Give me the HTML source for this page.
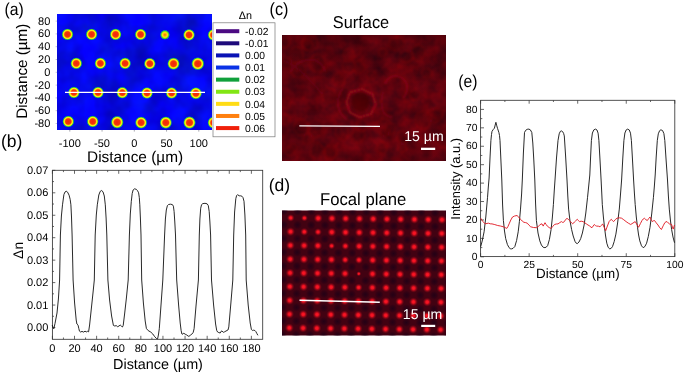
<!DOCTYPE html>
<html lang="en"><head><meta charset="utf-8"><title>Figure</title>
<style>html,body{margin:0;padding:0;background:#fff;}svg{display:block;opacity:0.999;}text{font-family:"Liberation Sans", sans-serif;text-rendering:geometricPrecision;}</style></head><body>
<svg width="685" height="374" viewBox="0 0 685 374">
<rect width="685" height="374" fill="#fff"/>
<defs>
<radialGradient id="dot"><stop offset="0" stop-color="#f0260a"/><stop offset="0.44" stop-color="#f4360a"/><stop offset="0.54" stop-color="#ff8a0a"/><stop offset="0.62" stop-color="#ffe012"/><stop offset="0.71" stop-color="#f4ec14"/><stop offset="0.78" stop-color="#8ee618"/><stop offset="0.85" stop-color="#18b050"/><stop offset="0.93" stop-color="#1068d0" stop-opacity="0.65"/><stop offset="1" stop-color="#0a2ae0" stop-opacity="0"/></radialGradient>
<radialGradient id="dotw"><stop offset="0" stop-color="#f8600a"/><stop offset="0.28" stop-color="#ffb010"/><stop offset="0.50" stop-color="#ffe414"/><stop offset="0.68" stop-color="#86e418"/><stop offset="0.82" stop-color="#18b050"/><stop offset="0.93" stop-color="#1060d8" stop-opacity="0.8"/><stop offset="1" stop-color="#0a2ae0" stop-opacity="0"/></radialGradient>
<radialGradient id="fd"><stop offset="0" stop-color="#fa1a2a"/><stop offset="0.30" stop-color="#f0101f"/><stop offset="0.58" stop-color="#c00a1a" stop-opacity="0.62"/><stop offset="1" stop-color="#70040f" stop-opacity="0"/></radialGradient>
<radialGradient id="fdk"><stop offset="0" stop-color="#1c0016" stop-opacity="0.8"/><stop offset="0.55" stop-color="#1c0016" stop-opacity="0.45"/><stop offset="1" stop-color="#1c0016" stop-opacity="0"/></radialGradient>
<filter id="bluetex" x="0" y="0" width="1" height="1" color-interpolation-filters="sRGB"><feTurbulence type="fractalNoise" baseFrequency="0.04" numOctaves="3" seed="7" result="n"/><feColorMatrix in="n" type="matrix" values="0 0 0 0 0.02  0.12 0 0 0 -0.03  0 0.52 0 0 0.64  0 0 0 0 1"/></filter>
<filter id="redtex" x="0" y="0" width="1" height="1" color-interpolation-filters="sRGB"><feTurbulence type="fractalNoise" baseFrequency="0.065" numOctaves="3" seed="11" result="n"/><feColorMatrix in="n" type="matrix" values="0.40 0 0 0 0.18  0 0.02 0 0 0.0  0 0.04 0 0 0.035  0 0 0 0 1"/></filter>
<radialGradient id="vig" cx="0.55" cy="0.5" r="0.75"><stop offset="0" stop-color="#200008" stop-opacity="0"/><stop offset="0.55" stop-color="#200008" stop-opacity="0.08"/><stop offset="1" stop-color="#200008" stop-opacity="0.25"/></radialGradient>
<linearGradient id="tb" x1="0" y1="0" x2="0" y2="1"><stop offset="0" stop-color="#1a0006" stop-opacity="0.12"/><stop offset="0.5" stop-color="#1a0006" stop-opacity="0.02"/><stop offset="0.55" stop-color="#c00008" stop-opacity="0.0"/><stop offset="1" stop-color="#c00008" stop-opacity="0.03"/></linearGradient>
<filter id="blur1"><feGaussianBlur stdDeviation="1.1"/></filter>
<filter id="blur2"><feGaussianBlur stdDeviation="0.6"/></filter>
<clipPath id="clipA"><rect x="57" y="14" width="155" height="116"/></clipPath>
<clipPath id="clipC"><rect x="282" y="35" width="164" height="125.5"/></clipPath>
<clipPath id="clipD"><rect x="282" y="210.5" width="164" height="125"/></clipPath>
</defs>
<g id="panel-a">
<rect x="57" y="14" width="155" height="116" fill="#0508e6"/>
<rect x="57" y="14" width="155" height="116" filter="url(#bluetex)"/>
<g clip-path="url(#clipA)">
<circle cx="67.5" cy="34.4" r="6.1" fill="url(#dot)"/>
<circle cx="91.6" cy="34.4" r="6.1" fill="url(#dot)"/>
<circle cx="115.6" cy="34.4" r="6.1" fill="url(#dot)"/>
<circle cx="140.6" cy="34.5" r="6.1" fill="url(#dot)"/>
<circle cx="164.9" cy="34.8" r="5" fill="url(#dotw)"/>
<circle cx="189" cy="34.9" r="6.1" fill="url(#dot)"/>
<circle cx="213.5" cy="34.9" r="6.1" fill="url(#dot)"/>
<circle cx="76.3" cy="63.4" r="6.1" fill="url(#dot)"/>
<circle cx="100.4" cy="63.4" r="6.1" fill="url(#dot)"/>
<circle cx="125.1" cy="63.4" r="6.1" fill="url(#dot)"/>
<circle cx="149.8" cy="63.7" r="6.1" fill="url(#dot)"/>
<circle cx="173.5" cy="63.7" r="6.4" fill="url(#dot)"/>
<circle cx="197.8" cy="63.7" r="6.7" fill="url(#dot)"/>
<circle cx="73.9" cy="92.5" r="6.1" fill="url(#dot)"/>
<circle cx="98" cy="92.5" r="6.1" fill="url(#dot)"/>
<circle cx="122.3" cy="92.7" r="6.1" fill="url(#dot)"/>
<circle cx="147" cy="93" r="6.1" fill="url(#dot)"/>
<circle cx="171.6" cy="93" r="6.1" fill="url(#dot)"/>
<circle cx="195.9" cy="93.3" r="6.3" fill="url(#dot)"/>
<circle cx="68.3" cy="121.5" r="6.1" fill="url(#dot)"/>
<circle cx="92.7" cy="121.5" r="6.1" fill="url(#dot)"/>
<circle cx="117.2" cy="122.2" r="6.6" fill="url(#dot)"/>
<circle cx="141.1" cy="122.6" r="6.3" fill="url(#dot)"/>
<circle cx="165.8" cy="122.6" r="6.4" fill="url(#dot)"/>
<circle cx="189.5" cy="122.6" r="6.5" fill="url(#dot)"/>
<circle cx="213.6" cy="122.6" r="6.3" fill="url(#dot)"/>
</g>
<line x1="65" y1="92.3" x2="205" y2="92.3" stroke="#fff" stroke-width="1.3"/>
<line x1="69.8" y1="130" x2="69.8" y2="131.6" stroke="#556" stroke-width="0.5"/>
<text x="69.8" y="146.9" font-size="11" text-anchor="middle" fill="#000">-100</text>
<line x1="102.05" y1="130" x2="102.05" y2="131.6" stroke="#556" stroke-width="0.5"/>
<text x="102.05" y="146.9" font-size="11" text-anchor="middle" fill="#000">-50</text>
<line x1="134.3" y1="130" x2="134.3" y2="131.6" stroke="#556" stroke-width="0.5"/>
<text x="134.3" y="146.9" font-size="11" text-anchor="middle" fill="#000">0</text>
<line x1="166.55" y1="130" x2="166.55" y2="131.6" stroke="#556" stroke-width="0.5"/>
<text x="166.55" y="146.9" font-size="11" text-anchor="middle" fill="#000">50</text>
<line x1="198.8" y1="130" x2="198.8" y2="131.6" stroke="#556" stroke-width="0.5"/>
<text x="198.8" y="146.9" font-size="11" text-anchor="middle" fill="#000">100</text>
<line x1="55.6" y1="21.1" x2="57" y2="21.1" stroke="#88a" stroke-width="0.5"/>
<text x="50.3" y="24.5" font-size="11" text-anchor="end" fill="#000">80</text>
<line x1="55.6" y1="33.9" x2="57" y2="33.9" stroke="#88a" stroke-width="0.5"/>
<text x="50.3" y="37.3" font-size="11" text-anchor="end" fill="#000">60</text>
<line x1="55.6" y1="46.7" x2="57" y2="46.7" stroke="#88a" stroke-width="0.5"/>
<text x="50.3" y="50.1" font-size="11" text-anchor="end" fill="#000">40</text>
<line x1="55.6" y1="59.5" x2="57" y2="59.5" stroke="#88a" stroke-width="0.5"/>
<text x="50.3" y="62.9" font-size="11" text-anchor="end" fill="#000">20</text>
<line x1="55.6" y1="72.3" x2="57" y2="72.3" stroke="#88a" stroke-width="0.5"/>
<text x="50.3" y="75.7" font-size="11" text-anchor="end" fill="#000">0</text>
<line x1="55.6" y1="85.1" x2="57" y2="85.1" stroke="#88a" stroke-width="0.5"/>
<text x="50.3" y="88.5" font-size="11" text-anchor="end" fill="#000">-20</text>
<line x1="55.6" y1="97.9" x2="57" y2="97.9" stroke="#88a" stroke-width="0.5"/>
<text x="50.3" y="101.3" font-size="11" text-anchor="end" fill="#000">-40</text>
<line x1="55.6" y1="110.7" x2="57" y2="110.7" stroke="#88a" stroke-width="0.5"/>
<text x="50.3" y="114.1" font-size="11" text-anchor="end" fill="#000">-60</text>
<line x1="55.6" y1="123.5" x2="57" y2="123.5" stroke="#88a" stroke-width="0.5"/>
<text x="50.3" y="126.9" font-size="11" text-anchor="end" fill="#000">-80</text>
<text x="135.1" y="162.3" font-size="15.4" text-anchor="middle" fill="#000">Distance (µm)</text>
<text transform="translate(26.6 71.2) rotate(-90)" font-size="15.25" text-anchor="middle" fill="#000">Distance (µm)</text>
<text transform="translate(14.2 15) scale(0.91 1)" font-size="17.3" text-anchor="middle" fill="#000">(a)</text>
<rect x="213" y="22.8" width="62" height="114" fill="#fff" stroke="#777" stroke-width="0.7"/>
<text x="245.3" y="19.2" font-size="10.8" text-anchor="middle" fill="#000">Δn</text>
<rect x="216" y="29.2" width="23.3" height="4" fill="#4b0a82"/>
<text x="245" y="34.9" font-size="10.3" text-anchor="start" fill="#000">-0.02</text>
<rect x="216" y="41.31" width="23.3" height="4" fill="#1e0a7a"/>
<text x="245" y="47.01" font-size="10.3" text-anchor="start" fill="#000">-0.01</text>
<rect x="216" y="53.42" width="23.3" height="4" fill="#0a12b4"/>
<text x="245" y="59.12" font-size="10.3" text-anchor="start" fill="#000">0.00</text>
<rect x="216" y="65.53" width="23.3" height="4" fill="#0a32e6"/>
<text x="245" y="71.23" font-size="10.3" text-anchor="start" fill="#000">0.01</text>
<rect x="216" y="77.64" width="23.3" height="4" fill="#10a03c"/>
<text x="245" y="83.34" font-size="10.3" text-anchor="start" fill="#000">0.02</text>
<rect x="216" y="89.75" width="23.3" height="4" fill="#82e614"/>
<text x="245" y="95.45" font-size="10.3" text-anchor="start" fill="#000">0.03</text>
<rect x="216" y="101.86" width="23.3" height="4" fill="#ffdc14"/>
<text x="245" y="107.56" font-size="10.3" text-anchor="start" fill="#000">0.04</text>
<rect x="216" y="113.97" width="23.3" height="4" fill="#ff800f"/>
<text x="245" y="119.67" font-size="10.3" text-anchor="start" fill="#000">0.05</text>
<rect x="216" y="126.08" width="23.3" height="4" fill="#f0200a"/>
<text x="245" y="131.78" font-size="10.3" text-anchor="start" fill="#000">0.06</text>
</g>
<g id="panel-b">
<rect x="52.4" y="170.3" width="210.3" height="169" fill="#fff" stroke="#363636" stroke-width="0.85"/>
<path d="M52.4 339.3v-3.5M52.4 170.3v3.5M63.45 339.3v-1.8M63.45 170.3v1.8M74.51 339.3v-3.5M74.51 170.3v3.5M85.56 339.3v-1.8M85.56 170.3v1.8M96.62 339.3v-3.5M96.62 170.3v3.5M107.67 339.3v-1.8M107.67 170.3v1.8M118.73 339.3v-3.5M118.73 170.3v3.5M129.78 339.3v-1.8M129.78 170.3v1.8M140.84 339.3v-3.5M140.84 170.3v3.5M151.89 339.3v-1.8M151.89 170.3v1.8M162.95 339.3v-3.5M162.95 170.3v3.5M174 339.3v-1.8M174 170.3v1.8M185.06 339.3v-3.5M185.06 170.3v3.5M196.12 339.3v-1.8M196.12 170.3v1.8M207.17 339.3v-3.5M207.17 170.3v3.5M218.22 339.3v-1.8M218.22 170.3v1.8M229.28 339.3v-3.5M229.28 170.3v3.5M240.33 339.3v-1.8M240.33 170.3v1.8M251.39 339.3v-3.5M251.39 170.3v3.5M52.4 327.5h2.9M52.4 316.27h1.6M52.4 305.05h2.9M52.4 293.82h1.6M52.4 282.6h2.9M52.4 271.38h1.6M52.4 260.15h2.9M52.4 248.93h1.6M52.4 237.7h2.9M52.4 226.48h1.6M52.4 215.25h2.9M52.4 204.03h1.6M52.4 192.8h2.9M52.4 181.57h1.6M52.4 170.35h2.9" stroke="#363636" stroke-width="0.75" fill="none"/>
<text x="52.4" y="352.1" font-size="11" text-anchor="middle" fill="#000">0</text>
<text x="74.51" y="352.1" font-size="11" text-anchor="middle" fill="#000">20</text>
<text x="96.62" y="352.1" font-size="11" text-anchor="middle" fill="#000">40</text>
<text x="118.73" y="352.1" font-size="11" text-anchor="middle" fill="#000">60</text>
<text x="140.84" y="352.1" font-size="11" text-anchor="middle" fill="#000">80</text>
<text x="162.95" y="352.1" font-size="11" text-anchor="middle" fill="#000">100</text>
<text x="185.06" y="352.1" font-size="11" text-anchor="middle" fill="#000">120</text>
<text x="207.17" y="352.1" font-size="11" text-anchor="middle" fill="#000">140</text>
<text x="229.28" y="352.1" font-size="11" text-anchor="middle" fill="#000">160</text>
<text x="251.39" y="352.1" font-size="11" text-anchor="middle" fill="#000">180</text>
<text x="48.3" y="331" font-size="11" text-anchor="end" fill="#000">0.00</text>
<text x="48.3" y="308.55" font-size="11" text-anchor="end" fill="#000">0.01</text>
<text x="48.3" y="286.1" font-size="11" text-anchor="end" fill="#000">0.02</text>
<text x="48.3" y="263.65" font-size="11" text-anchor="end" fill="#000">0.03</text>
<text x="48.3" y="241.2" font-size="11" text-anchor="end" fill="#000">0.04</text>
<text x="48.3" y="218.75" font-size="11" text-anchor="end" fill="#000">0.05</text>
<text x="48.3" y="196.3" font-size="11" text-anchor="end" fill="#000">0.06</text>
<text x="48.3" y="173.85" font-size="11" text-anchor="end" fill="#000">0.07</text>
<text x="158" y="369" font-size="14.4" text-anchor="middle" fill="#000">Distance (µm)</text>
<text transform="translate(23.4 250.4) rotate(-90)" font-size="13.9" text-anchor="middle" fill="#000">Δn</text>
<text transform="translate(11.65 147.4) scale(1 1)" font-size="17.5" text-anchor="middle" fill="#000">(b)</text>
<path d="M52.2 325L53 327.4L53.8 328.8L55 323.5L57 313L58.4 299L59.6 280L60.4 235L61.4 216L62.5 204.8L63.9 194.6L65 192L66.2 191.2L67.6 192.2L69.1 195.2L70.2 199.5L70.9 204.8L71.5 217L72.1 235L73.1 280L74.6 303L76.2 320L76.9 324L78.1 325.2L78.8 328.5L79.5 331.2L80.6 332L82 331.4L83.6 332.1L85 331.2L86.4 331.9L87.6 331.3L88.6 331.8L89.6 325L91.5 307L93.2 291L94.3 280L95.2 235L96.3 215L97.3 204.8L98.8 195L100.2 191.4L101.6 190.5L103 191.8L104.3 196L105.3 204.8L106.1 218L106.8 235L107.9 280L109.6 300L111.6 316L113.4 325.4L114.8 326L116.2 325.6L117.6 326.7L119 326L120.2 325L121.4 326.2L122.4 327L123.2 325.5L124.6 314L126.4 298L128.2 280L129.4 235L130.3 214L131.3 201.3L132.2 193.5L133.1 190L134.6 188.8L136.4 189.4L137.6 190.8L138.6 192.8L139.3 197.5L139.8 204.8L140.4 218L141 235L141.7 280L143.4 303L145.2 321L146.4 328.5L148.2 330.6L150.8 332.1L152.8 334L154.8 336.8L156.6 338.6L157.6 338.9L158.4 335L159.3 328.7L161 305L162.8 280L164.6 235L165.4 219L166.3 210L167.4 205.6L168.6 204.5L170.5 204.2L172.4 204.6L173.4 206.2L174.1 211.5L174.8 222L175.5 235L176.7 280L178.6 305L180.2 323L181.1 330.4L181.9 334L182.8 334.2L183.7 333.2L185.2 334.2L186.8 335L188 336L188.9 336.4L190.4 335.2L191.8 334.2L193.2 332.4L194.1 328.7L196 306L198.4 280L199.3 235L199.9 219L200.7 208.2L201.6 204.6L202.8 203.6L205 203.3L207.1 203.8L208.3 205.6L209.2 211.5L209.9 222L210.6 235L211.5 280L213.6 305L215.6 324L216.7 330.4L217.6 332L218.8 332.6L220.2 333L221 331.4L221.9 331L223.4 332.3L224.6 331.8L226 331L227.2 330.4L228 330L228.8 326.9L230.8 304L232.8 280L233.7 235L234.6 212L235.8 198.7L236.6 195.6L237.5 194.7L239.2 195.8L240.6 195.8L241.9 196.2L243 197.6L244 201.3L244.9 215L245.7 235L246.2 280L248.2 305L250.2 323L251.4 329.5L252.3 330.4L253.6 330.2L254.9 330.5L255.8 331.5L256.8 333.4L257.9 335.3" stroke="#111" stroke-width="0.9" fill="none" stroke-linejoin="round"/>
</g>
<g id="panel-c">
<text transform="translate(361 27.9) scale(0.95 1)" font-size="17.2" text-anchor="middle" fill="#000">Surface</text>
<text transform="translate(279 14.6) scale(0.93 1)" font-size="17.5" text-anchor="middle" fill="#000">(c)</text>
<rect x="282" y="35" width="164" height="125.5" fill="#680410"/>
<rect x="282" y="35" width="164" height="125.5" filter="url(#redtex)"/>
<rect x="282" y="35" width="164" height="125.5" fill="url(#vig)"/>
<rect x="282" y="35" width="164" height="125.5" fill="url(#tb)"/>
<g clip-path="url(#clipC)" fill="none">
<g filter="url(#blur1)">
<ellipse cx="360.5" cy="102" rx="9" ry="9.4" fill="#3c0009" fill-opacity="0.6"/>
<path d="M346.5 102L350 92.5L362 89L372.5 94L375.7 104.5L371 114L359.7 117.3L350 112.5Z" stroke="#b00c1a" stroke-width="2.6" stroke-opacity="0.6" stroke-linejoin="round"/>
<path d="M343 88q-6 8-5 18q2 9 9 14" stroke="#98091a" stroke-width="2" stroke-opacity="0.55"/>
<path d="M385 84q3-8 11-8q9 1 11 9q1 8-4 13" stroke="#a80c1a" stroke-width="2.2" stroke-opacity="0.5"/>
<path d="M383 92q-3 10 0 19q3 6 9 6" stroke="#a00a1a" stroke-width="2" stroke-opacity="0.4"/>
<path d="M290 72q10-14 24-12q8 2 12 12" stroke="#90081a" stroke-width="2" stroke-opacity="0.45"/>
<path d="M282 60q18 6 40 34" stroke="#8a081a" stroke-width="1.8" stroke-opacity="0.4"/>
<g stroke="#b40c1c" stroke-width="1.5" stroke-opacity="0.2" fill="#300008" fill-opacity="0.12"><ellipse cx="383.66" cy="126.76" rx="7.18" ry="8.45"/><ellipse cx="402.38" cy="148.6" rx="4.12" ry="4.06"/><ellipse cx="434.94" cy="115.53" rx="7.6" ry="6.43"/><ellipse cx="359.05" cy="66.84" rx="6.18" ry="6.36"/><ellipse cx="286.1" cy="63.22" rx="5.12" ry="5.97"/><ellipse cx="406.52" cy="56.31" rx="7.19" ry="6.15"/><ellipse cx="382.79" cy="52.33" rx="4.01" ry="4.6"/><ellipse cx="317.51" cy="63.07" rx="7.93" ry="9.11"/><ellipse cx="330.29" cy="153.34" rx="6.16" ry="6.59"/><ellipse cx="316.76" cy="150.86" rx="6.76" ry="8.02"/><ellipse cx="427" cy="73.15" rx="5.44" ry="4.72"/><ellipse cx="307.31" cy="44.88" rx="5.21" ry="5.42"/><ellipse cx="284.54" cy="119.03" rx="5.35" ry="4.94"/><ellipse cx="414.96" cy="95.17" rx="5.26" ry="5.22"/><ellipse cx="396.75" cy="43.9" rx="7.9" ry="6.39"/><ellipse cx="403.97" cy="139.23" rx="4.07" ry="4.54"/><ellipse cx="285.45" cy="42.65" rx="4.72" ry="5.58"/><ellipse cx="315.44" cy="128.44" rx="7.72" ry="9.08"/><ellipse cx="339.1" cy="79.93" rx="6.1" ry="6.77"/><ellipse cx="301.29" cy="127.56" rx="7.19" ry="8.22"/><ellipse cx="289.86" cy="151.44" rx="4.36" ry="4.09"/><ellipse cx="381.73" cy="148.09" rx="5.36" ry="6.27"/><ellipse cx="371.22" cy="74.81" rx="5.27" ry="4.59"/><ellipse cx="296.51" cy="55.01" rx="6.76" ry="8.1"/><ellipse cx="309.84" cy="42.87" rx="7.95" ry="8.05"/><ellipse cx="348.94" cy="65.72" rx="6.38" ry="7.21"/><ellipse cx="292.91" cy="147.84" rx="4.13" ry="4.12"/><ellipse cx="418.15" cy="52.8" rx="6.93" ry="8.17"/><ellipse cx="384.86" cy="132.35" rx="4.43" ry="4.31"/><ellipse cx="307.88" cy="139.21" rx="5.18" ry="5.08"/><ellipse cx="443.89" cy="140.12" rx="7.9" ry="7.76"/><ellipse cx="362.11" cy="125.27" rx="5.92" ry="5.42"/><ellipse cx="348.61" cy="54.73" rx="5.51" ry="6.58"/><ellipse cx="437.57" cy="112.86" rx="6" ry="5.61"/><ellipse cx="298.26" cy="69.95" rx="7.13" ry="8.18"/><ellipse cx="341.81" cy="132.11" rx="7.1" ry="7.65"/><ellipse cx="390.24" cy="128.92" rx="5.45" ry="5.9"/><ellipse cx="328.94" cy="95.77" rx="7.08" ry="7.62"/><ellipse cx="331.02" cy="151.41" rx="6.6" ry="6.81"/><ellipse cx="285.85" cy="103.19" rx="5" ry="5.35"/><ellipse cx="358.07" cy="135.82" rx="6.59" ry="7.37"/><ellipse cx="402.05" cy="137.21" rx="5.4" ry="6.14"/><ellipse cx="423.19" cy="120.29" rx="7.9" ry="9.35"/></g>
</g></g>
<line x1="299.3" y1="125.9" x2="380" y2="126.4" stroke="#fff" stroke-width="1.3"/>
<text x="424" y="141.2" font-size="14.1" text-anchor="middle" fill="#fff">15 µm</text>
<rect x="421" y="147.7" width="14.2" height="2.3" fill="#fff"/>
</g>
<g id="panel-d">
<text transform="translate(363.1 205.2) scale(0.97 1)" font-size="17.2" text-anchor="middle" fill="#000">Focal plane</text>
<text transform="translate(279.4 191.4) scale(1 1)" font-size="17.5" text-anchor="middle" fill="#000">(d)</text>
<rect x="282" y="210.5" width="164" height="125" fill="#420212"/>
<g clip-path="url(#clipD)"><g transform="rotate(0.7 290.7 217.9)">
<circle cx="283.82" cy="197.28" r="4.6" fill="url(#fdk)"/>
<circle cx="297.57" cy="197.28" r="4.6" fill="url(#fdk)"/>
<circle cx="311.32" cy="197.28" r="4.6" fill="url(#fdk)"/>
<circle cx="325.07" cy="197.28" r="4.6" fill="url(#fdk)"/>
<circle cx="338.82" cy="197.28" r="4.6" fill="url(#fdk)"/>
<circle cx="352.57" cy="197.28" r="4.6" fill="url(#fdk)"/>
<circle cx="366.32" cy="197.28" r="4.6" fill="url(#fdk)"/>
<circle cx="380.07" cy="197.28" r="4.6" fill="url(#fdk)"/>
<circle cx="393.82" cy="197.28" r="4.6" fill="url(#fdk)"/>
<circle cx="407.57" cy="197.28" r="4.6" fill="url(#fdk)"/>
<circle cx="421.32" cy="197.28" r="4.6" fill="url(#fdk)"/>
<circle cx="435.07" cy="197.28" r="4.6" fill="url(#fdk)"/>
<circle cx="448.82" cy="197.28" r="4.6" fill="url(#fdk)"/>
<circle cx="462.57" cy="197.28" r="4.6" fill="url(#fdk)"/>
<circle cx="476.32" cy="197.28" r="4.6" fill="url(#fdk)"/>
<circle cx="283.82" cy="211.03" r="4.6" fill="url(#fdk)"/>
<circle cx="297.57" cy="211.03" r="4.6" fill="url(#fdk)"/>
<circle cx="311.32" cy="211.03" r="4.6" fill="url(#fdk)"/>
<circle cx="325.07" cy="211.03" r="4.6" fill="url(#fdk)"/>
<circle cx="338.82" cy="211.03" r="4.6" fill="url(#fdk)"/>
<circle cx="352.57" cy="211.03" r="4.6" fill="url(#fdk)"/>
<circle cx="366.32" cy="211.03" r="4.6" fill="url(#fdk)"/>
<circle cx="380.07" cy="211.03" r="4.6" fill="url(#fdk)"/>
<circle cx="393.82" cy="211.03" r="4.6" fill="url(#fdk)"/>
<circle cx="407.57" cy="211.03" r="4.6" fill="url(#fdk)"/>
<circle cx="421.32" cy="211.03" r="4.6" fill="url(#fdk)"/>
<circle cx="435.07" cy="211.03" r="4.6" fill="url(#fdk)"/>
<circle cx="448.82" cy="211.03" r="4.6" fill="url(#fdk)"/>
<circle cx="462.57" cy="211.03" r="4.6" fill="url(#fdk)"/>
<circle cx="476.32" cy="211.03" r="4.6" fill="url(#fdk)"/>
<circle cx="283.82" cy="224.78" r="4.6" fill="url(#fdk)"/>
<circle cx="297.57" cy="224.78" r="4.6" fill="url(#fdk)"/>
<circle cx="311.32" cy="224.78" r="4.6" fill="url(#fdk)"/>
<circle cx="325.07" cy="224.78" r="4.6" fill="url(#fdk)"/>
<circle cx="338.82" cy="224.78" r="4.6" fill="url(#fdk)"/>
<circle cx="352.57" cy="224.78" r="4.6" fill="url(#fdk)"/>
<circle cx="366.32" cy="224.78" r="4.6" fill="url(#fdk)"/>
<circle cx="380.07" cy="224.78" r="4.6" fill="url(#fdk)"/>
<circle cx="393.82" cy="224.78" r="4.6" fill="url(#fdk)"/>
<circle cx="407.57" cy="224.78" r="4.6" fill="url(#fdk)"/>
<circle cx="421.32" cy="224.78" r="4.6" fill="url(#fdk)"/>
<circle cx="435.07" cy="224.78" r="4.6" fill="url(#fdk)"/>
<circle cx="448.82" cy="224.78" r="4.6" fill="url(#fdk)"/>
<circle cx="462.57" cy="224.78" r="4.6" fill="url(#fdk)"/>
<circle cx="476.32" cy="224.78" r="4.6" fill="url(#fdk)"/>
<circle cx="283.82" cy="238.53" r="4.6" fill="url(#fdk)"/>
<circle cx="297.57" cy="238.53" r="4.6" fill="url(#fdk)"/>
<circle cx="311.32" cy="238.53" r="4.6" fill="url(#fdk)"/>
<circle cx="325.07" cy="238.53" r="4.6" fill="url(#fdk)"/>
<circle cx="338.82" cy="238.53" r="4.6" fill="url(#fdk)"/>
<circle cx="352.57" cy="238.53" r="4.6" fill="url(#fdk)"/>
<circle cx="366.32" cy="238.53" r="4.6" fill="url(#fdk)"/>
<circle cx="380.07" cy="238.53" r="4.6" fill="url(#fdk)"/>
<circle cx="393.82" cy="238.53" r="4.6" fill="url(#fdk)"/>
<circle cx="407.57" cy="238.53" r="4.6" fill="url(#fdk)"/>
<circle cx="421.32" cy="238.53" r="4.6" fill="url(#fdk)"/>
<circle cx="435.07" cy="238.53" r="4.6" fill="url(#fdk)"/>
<circle cx="448.82" cy="238.53" r="4.6" fill="url(#fdk)"/>
<circle cx="462.57" cy="238.53" r="4.6" fill="url(#fdk)"/>
<circle cx="476.32" cy="238.53" r="4.6" fill="url(#fdk)"/>
<circle cx="283.82" cy="252.28" r="4.6" fill="url(#fdk)"/>
<circle cx="297.57" cy="252.28" r="4.6" fill="url(#fdk)"/>
<circle cx="311.32" cy="252.28" r="4.6" fill="url(#fdk)"/>
<circle cx="325.07" cy="252.28" r="4.6" fill="url(#fdk)"/>
<circle cx="338.82" cy="252.28" r="4.6" fill="url(#fdk)"/>
<circle cx="352.57" cy="252.28" r="4.6" fill="url(#fdk)"/>
<circle cx="366.32" cy="252.28" r="4.6" fill="url(#fdk)"/>
<circle cx="380.07" cy="252.28" r="4.6" fill="url(#fdk)"/>
<circle cx="393.82" cy="252.28" r="4.6" fill="url(#fdk)"/>
<circle cx="407.57" cy="252.28" r="4.6" fill="url(#fdk)"/>
<circle cx="421.32" cy="252.28" r="4.6" fill="url(#fdk)"/>
<circle cx="435.07" cy="252.28" r="4.6" fill="url(#fdk)"/>
<circle cx="448.82" cy="252.28" r="4.6" fill="url(#fdk)"/>
<circle cx="462.57" cy="252.28" r="4.6" fill="url(#fdk)"/>
<circle cx="476.32" cy="252.28" r="4.6" fill="url(#fdk)"/>
<circle cx="283.82" cy="266.02" r="4.6" fill="url(#fdk)"/>
<circle cx="297.57" cy="266.02" r="4.6" fill="url(#fdk)"/>
<circle cx="311.32" cy="266.02" r="4.6" fill="url(#fdk)"/>
<circle cx="325.07" cy="266.02" r="4.6" fill="url(#fdk)"/>
<circle cx="338.82" cy="266.02" r="4.6" fill="url(#fdk)"/>
<circle cx="352.57" cy="266.02" r="4.6" fill="url(#fdk)"/>
<circle cx="366.32" cy="266.02" r="4.6" fill="url(#fdk)"/>
<circle cx="380.07" cy="266.02" r="4.6" fill="url(#fdk)"/>
<circle cx="393.82" cy="266.02" r="4.6" fill="url(#fdk)"/>
<circle cx="407.57" cy="266.02" r="4.6" fill="url(#fdk)"/>
<circle cx="421.32" cy="266.02" r="4.6" fill="url(#fdk)"/>
<circle cx="435.07" cy="266.02" r="4.6" fill="url(#fdk)"/>
<circle cx="448.82" cy="266.02" r="4.6" fill="url(#fdk)"/>
<circle cx="462.57" cy="266.02" r="4.6" fill="url(#fdk)"/>
<circle cx="476.32" cy="266.02" r="4.6" fill="url(#fdk)"/>
<circle cx="283.82" cy="279.77" r="4.6" fill="url(#fdk)"/>
<circle cx="297.57" cy="279.77" r="4.6" fill="url(#fdk)"/>
<circle cx="311.32" cy="279.77" r="4.6" fill="url(#fdk)"/>
<circle cx="325.07" cy="279.77" r="4.6" fill="url(#fdk)"/>
<circle cx="338.82" cy="279.77" r="4.6" fill="url(#fdk)"/>
<circle cx="352.57" cy="279.77" r="4.6" fill="url(#fdk)"/>
<circle cx="366.32" cy="279.77" r="4.6" fill="url(#fdk)"/>
<circle cx="380.07" cy="279.77" r="4.6" fill="url(#fdk)"/>
<circle cx="393.82" cy="279.77" r="4.6" fill="url(#fdk)"/>
<circle cx="407.57" cy="279.77" r="4.6" fill="url(#fdk)"/>
<circle cx="421.32" cy="279.77" r="4.6" fill="url(#fdk)"/>
<circle cx="435.07" cy="279.77" r="4.6" fill="url(#fdk)"/>
<circle cx="448.82" cy="279.77" r="4.6" fill="url(#fdk)"/>
<circle cx="462.57" cy="279.77" r="4.6" fill="url(#fdk)"/>
<circle cx="476.32" cy="279.77" r="4.6" fill="url(#fdk)"/>
<circle cx="283.82" cy="293.52" r="4.6" fill="url(#fdk)"/>
<circle cx="297.57" cy="293.52" r="4.6" fill="url(#fdk)"/>
<circle cx="311.32" cy="293.52" r="4.6" fill="url(#fdk)"/>
<circle cx="325.07" cy="293.52" r="4.6" fill="url(#fdk)"/>
<circle cx="338.82" cy="293.52" r="4.6" fill="url(#fdk)"/>
<circle cx="352.57" cy="293.52" r="4.6" fill="url(#fdk)"/>
<circle cx="366.32" cy="293.52" r="4.6" fill="url(#fdk)"/>
<circle cx="380.07" cy="293.52" r="4.6" fill="url(#fdk)"/>
<circle cx="393.82" cy="293.52" r="4.6" fill="url(#fdk)"/>
<circle cx="407.57" cy="293.52" r="4.6" fill="url(#fdk)"/>
<circle cx="421.32" cy="293.52" r="4.6" fill="url(#fdk)"/>
<circle cx="435.07" cy="293.52" r="4.6" fill="url(#fdk)"/>
<circle cx="448.82" cy="293.52" r="4.6" fill="url(#fdk)"/>
<circle cx="462.57" cy="293.52" r="4.6" fill="url(#fdk)"/>
<circle cx="476.32" cy="293.52" r="4.6" fill="url(#fdk)"/>
<circle cx="283.82" cy="307.27" r="4.6" fill="url(#fdk)"/>
<circle cx="297.57" cy="307.27" r="4.6" fill="url(#fdk)"/>
<circle cx="311.32" cy="307.27" r="4.6" fill="url(#fdk)"/>
<circle cx="325.07" cy="307.27" r="4.6" fill="url(#fdk)"/>
<circle cx="338.82" cy="307.27" r="4.6" fill="url(#fdk)"/>
<circle cx="352.57" cy="307.27" r="4.6" fill="url(#fdk)"/>
<circle cx="366.32" cy="307.27" r="4.6" fill="url(#fdk)"/>
<circle cx="380.07" cy="307.27" r="4.6" fill="url(#fdk)"/>
<circle cx="393.82" cy="307.27" r="4.6" fill="url(#fdk)"/>
<circle cx="407.57" cy="307.27" r="4.6" fill="url(#fdk)"/>
<circle cx="421.32" cy="307.27" r="4.6" fill="url(#fdk)"/>
<circle cx="435.07" cy="307.27" r="4.6" fill="url(#fdk)"/>
<circle cx="448.82" cy="307.27" r="4.6" fill="url(#fdk)"/>
<circle cx="462.57" cy="307.27" r="4.6" fill="url(#fdk)"/>
<circle cx="476.32" cy="307.27" r="4.6" fill="url(#fdk)"/>
<circle cx="283.82" cy="321.02" r="4.6" fill="url(#fdk)"/>
<circle cx="297.57" cy="321.02" r="4.6" fill="url(#fdk)"/>
<circle cx="311.32" cy="321.02" r="4.6" fill="url(#fdk)"/>
<circle cx="325.07" cy="321.02" r="4.6" fill="url(#fdk)"/>
<circle cx="338.82" cy="321.02" r="4.6" fill="url(#fdk)"/>
<circle cx="352.57" cy="321.02" r="4.6" fill="url(#fdk)"/>
<circle cx="366.32" cy="321.02" r="4.6" fill="url(#fdk)"/>
<circle cx="380.07" cy="321.02" r="4.6" fill="url(#fdk)"/>
<circle cx="393.82" cy="321.02" r="4.6" fill="url(#fdk)"/>
<circle cx="407.57" cy="321.02" r="4.6" fill="url(#fdk)"/>
<circle cx="421.32" cy="321.02" r="4.6" fill="url(#fdk)"/>
<circle cx="435.07" cy="321.02" r="4.6" fill="url(#fdk)"/>
<circle cx="448.82" cy="321.02" r="4.6" fill="url(#fdk)"/>
<circle cx="462.57" cy="321.02" r="4.6" fill="url(#fdk)"/>
<circle cx="476.32" cy="321.02" r="4.6" fill="url(#fdk)"/>
<circle cx="283.82" cy="334.77" r="4.6" fill="url(#fdk)"/>
<circle cx="297.57" cy="334.77" r="4.6" fill="url(#fdk)"/>
<circle cx="311.32" cy="334.77" r="4.6" fill="url(#fdk)"/>
<circle cx="325.07" cy="334.77" r="4.6" fill="url(#fdk)"/>
<circle cx="338.82" cy="334.77" r="4.6" fill="url(#fdk)"/>
<circle cx="352.57" cy="334.77" r="4.6" fill="url(#fdk)"/>
<circle cx="366.32" cy="334.77" r="4.6" fill="url(#fdk)"/>
<circle cx="380.07" cy="334.77" r="4.6" fill="url(#fdk)"/>
<circle cx="393.82" cy="334.77" r="4.6" fill="url(#fdk)"/>
<circle cx="407.57" cy="334.77" r="4.6" fill="url(#fdk)"/>
<circle cx="421.32" cy="334.77" r="4.6" fill="url(#fdk)"/>
<circle cx="435.07" cy="334.77" r="4.6" fill="url(#fdk)"/>
<circle cx="448.82" cy="334.77" r="4.6" fill="url(#fdk)"/>
<circle cx="462.57" cy="334.77" r="4.6" fill="url(#fdk)"/>
<circle cx="476.32" cy="334.77" r="4.6" fill="url(#fdk)"/>
<circle cx="283.82" cy="348.52" r="4.6" fill="url(#fdk)"/>
<circle cx="297.57" cy="348.52" r="4.6" fill="url(#fdk)"/>
<circle cx="311.32" cy="348.52" r="4.6" fill="url(#fdk)"/>
<circle cx="325.07" cy="348.52" r="4.6" fill="url(#fdk)"/>
<circle cx="338.82" cy="348.52" r="4.6" fill="url(#fdk)"/>
<circle cx="352.57" cy="348.52" r="4.6" fill="url(#fdk)"/>
<circle cx="366.32" cy="348.52" r="4.6" fill="url(#fdk)"/>
<circle cx="380.07" cy="348.52" r="4.6" fill="url(#fdk)"/>
<circle cx="393.82" cy="348.52" r="4.6" fill="url(#fdk)"/>
<circle cx="407.57" cy="348.52" r="4.6" fill="url(#fdk)"/>
<circle cx="421.32" cy="348.52" r="4.6" fill="url(#fdk)"/>
<circle cx="435.07" cy="348.52" r="4.6" fill="url(#fdk)"/>
<circle cx="448.82" cy="348.52" r="4.6" fill="url(#fdk)"/>
<circle cx="462.57" cy="348.52" r="4.6" fill="url(#fdk)"/>
<circle cx="476.32" cy="348.52" r="4.6" fill="url(#fdk)"/>
<circle cx="276.95" cy="204.15" r="4.7" fill="url(#fd)"/>
<circle cx="290.7" cy="204.15" r="4.7" fill="url(#fd)"/>
<circle cx="304.45" cy="204.15" r="4.7" fill="url(#fd)"/>
<circle cx="318.2" cy="204.15" r="4.7" fill="url(#fd)"/>
<circle cx="331.95" cy="204.15" r="4.7" fill="url(#fd)"/>
<circle cx="345.7" cy="204.15" r="4.7" fill="url(#fd)"/>
<circle cx="359.45" cy="204.15" r="4.7" fill="url(#fd)"/>
<circle cx="373.2" cy="204.15" r="4.7" fill="url(#fd)"/>
<circle cx="386.95" cy="204.15" r="4.7" fill="url(#fd)"/>
<circle cx="400.7" cy="204.15" r="4.7" fill="url(#fd)"/>
<circle cx="414.45" cy="204.15" r="4.7" fill="url(#fd)"/>
<circle cx="428.2" cy="204.15" r="4.7" fill="url(#fd)"/>
<circle cx="441.95" cy="204.15" r="4.7" fill="url(#fd)"/>
<circle cx="455.7" cy="204.15" r="4.7" fill="url(#fd)"/>
<circle cx="276.95" cy="217.9" r="4.7" fill="url(#fd)"/>
<circle cx="290.7" cy="217.9" r="4" fill="url(#fd)"/>
<circle cx="304.45" cy="217.9" r="3.6" fill="url(#fd)"/>
<circle cx="318.2" cy="217.9" r="4.7" fill="url(#fd)"/>
<circle cx="331.95" cy="217.9" r="4.7" fill="url(#fd)"/>
<circle cx="345.7" cy="217.9" r="4.7" fill="url(#fd)"/>
<circle cx="359.45" cy="217.9" r="4.7" fill="url(#fd)"/>
<circle cx="373.2" cy="217.9" r="4.7" fill="url(#fd)"/>
<circle cx="386.95" cy="217.9" r="4.7" fill="url(#fd)"/>
<circle cx="400.7" cy="217.9" r="4.7" fill="url(#fd)"/>
<circle cx="414.45" cy="217.9" r="4.7" fill="url(#fd)"/>
<circle cx="428.2" cy="217.9" r="4.7" fill="url(#fd)"/>
<circle cx="441.95" cy="217.9" r="4.7" fill="url(#fd)"/>
<circle cx="455.7" cy="217.9" r="4.7" fill="url(#fd)"/>
<circle cx="276.95" cy="231.65" r="4.7" fill="url(#fd)"/>
<circle cx="290.7" cy="231.65" r="4.7" fill="url(#fd)"/>
<circle cx="304.45" cy="231.65" r="4.2" fill="url(#fd)"/>
<circle cx="318.2" cy="231.65" r="4" fill="url(#fd)"/>
<circle cx="331.95" cy="231.65" r="4.7" fill="url(#fd)"/>
<circle cx="345.7" cy="231.65" r="4.7" fill="url(#fd)"/>
<circle cx="359.45" cy="231.65" r="4.7" fill="url(#fd)"/>
<circle cx="373.2" cy="231.65" r="4.7" fill="url(#fd)"/>
<circle cx="386.95" cy="231.65" r="4.7" fill="url(#fd)"/>
<circle cx="400.7" cy="231.65" r="4.7" fill="url(#fd)"/>
<circle cx="414.45" cy="231.65" r="4.7" fill="url(#fd)"/>
<circle cx="428.2" cy="231.65" r="4.7" fill="url(#fd)"/>
<circle cx="441.95" cy="231.65" r="4.7" fill="url(#fd)"/>
<circle cx="455.7" cy="231.65" r="4.7" fill="url(#fd)"/>
<circle cx="276.95" cy="245.4" r="4.7" fill="url(#fd)"/>
<circle cx="290.7" cy="245.4" r="4.7" fill="url(#fd)"/>
<circle cx="304.45" cy="245.4" r="4.7" fill="url(#fd)"/>
<circle cx="318.2" cy="245.4" r="4.7" fill="url(#fd)"/>
<circle cx="331.95" cy="245.4" r="3.6" fill="url(#fd)"/>
<circle cx="345.7" cy="245.4" r="4.2" fill="url(#fd)"/>
<circle cx="359.45" cy="245.4" r="4.7" fill="url(#fd)"/>
<circle cx="373.2" cy="245.4" r="4.7" fill="url(#fd)"/>
<circle cx="386.95" cy="245.4" r="4.7" fill="url(#fd)"/>
<circle cx="400.7" cy="245.4" r="4.7" fill="url(#fd)"/>
<circle cx="414.45" cy="245.4" r="4.7" fill="url(#fd)"/>
<circle cx="428.2" cy="245.4" r="4.7" fill="url(#fd)"/>
<circle cx="441.95" cy="245.4" r="4.7" fill="url(#fd)"/>
<circle cx="455.7" cy="245.4" r="4.7" fill="url(#fd)"/>
<circle cx="276.95" cy="259.15" r="4.7" fill="url(#fd)"/>
<circle cx="290.7" cy="259.15" r="4.7" fill="url(#fd)"/>
<circle cx="304.45" cy="259.15" r="4.7" fill="url(#fd)"/>
<circle cx="318.2" cy="259.15" r="4.7" fill="url(#fd)"/>
<circle cx="331.95" cy="259.15" r="4.7" fill="url(#fd)"/>
<circle cx="345.7" cy="259.15" r="4.2" fill="url(#fd)"/>
<circle cx="359.45" cy="259.15" r="4.2" fill="url(#fd)"/>
<circle cx="373.2" cy="259.15" r="4.7" fill="url(#fd)"/>
<circle cx="386.95" cy="259.15" r="4.7" fill="url(#fd)"/>
<circle cx="400.7" cy="259.15" r="4.7" fill="url(#fd)"/>
<circle cx="414.45" cy="259.15" r="4.7" fill="url(#fd)"/>
<circle cx="428.2" cy="259.15" r="4.7" fill="url(#fd)"/>
<circle cx="441.95" cy="259.15" r="4.7" fill="url(#fd)"/>
<circle cx="455.7" cy="259.15" r="4.7" fill="url(#fd)"/>
<circle cx="276.95" cy="272.9" r="4.7" fill="url(#fd)"/>
<circle cx="290.7" cy="272.9" r="4.7" fill="url(#fd)"/>
<circle cx="304.45" cy="272.9" r="4.7" fill="url(#fd)"/>
<circle cx="318.2" cy="272.9" r="4.7" fill="url(#fd)"/>
<circle cx="331.95" cy="272.9" r="4.7" fill="url(#fd)"/>
<circle cx="345.7" cy="272.9" r="4.7" fill="url(#fd)"/>
<circle cx="359.45" cy="272.9" r="2.6" fill="url(#fd)"/>
<circle cx="373.2" cy="272.9" r="4.7" fill="url(#fd)"/>
<circle cx="386.95" cy="272.9" r="4.7" fill="url(#fd)"/>
<circle cx="400.7" cy="272.9" r="4.7" fill="url(#fd)"/>
<circle cx="414.45" cy="272.9" r="4.7" fill="url(#fd)"/>
<circle cx="428.2" cy="272.9" r="4.7" fill="url(#fd)"/>
<circle cx="441.95" cy="272.9" r="4.7" fill="url(#fd)"/>
<circle cx="455.7" cy="272.9" r="4.7" fill="url(#fd)"/>
<circle cx="276.95" cy="286.65" r="4.7" fill="url(#fd)"/>
<circle cx="290.7" cy="286.65" r="4.7" fill="url(#fd)"/>
<circle cx="304.45" cy="286.65" r="4.7" fill="url(#fd)"/>
<circle cx="318.2" cy="286.65" r="4.7" fill="url(#fd)"/>
<circle cx="331.95" cy="286.65" r="4.7" fill="url(#fd)"/>
<circle cx="345.7" cy="286.65" r="4.7" fill="url(#fd)"/>
<circle cx="359.45" cy="286.65" r="4.2" fill="url(#fd)"/>
<circle cx="373.2" cy="286.65" r="4.7" fill="url(#fd)"/>
<circle cx="386.95" cy="286.65" r="4.7" fill="url(#fd)"/>
<circle cx="400.7" cy="286.65" r="4.7" fill="url(#fd)"/>
<circle cx="414.45" cy="286.65" r="4.7" fill="url(#fd)"/>
<circle cx="428.2" cy="286.65" r="4.7" fill="url(#fd)"/>
<circle cx="441.95" cy="286.65" r="4.7" fill="url(#fd)"/>
<circle cx="455.7" cy="286.65" r="4.7" fill="url(#fd)"/>
<circle cx="276.95" cy="300.4" r="4.7" fill="url(#fd)"/>
<circle cx="290.7" cy="300.4" r="4.7" fill="url(#fd)"/>
<circle cx="304.45" cy="300.4" r="4.7" fill="url(#fd)"/>
<circle cx="318.2" cy="300.4" r="4.7" fill="url(#fd)"/>
<circle cx="331.95" cy="300.4" r="4.7" fill="url(#fd)"/>
<circle cx="345.7" cy="300.4" r="4.7" fill="url(#fd)"/>
<circle cx="359.45" cy="300.4" r="4.7" fill="url(#fd)"/>
<circle cx="373.2" cy="300.4" r="4.7" fill="url(#fd)"/>
<circle cx="386.95" cy="300.4" r="4.7" fill="url(#fd)"/>
<circle cx="400.7" cy="300.4" r="4.7" fill="url(#fd)"/>
<circle cx="414.45" cy="300.4" r="4.7" fill="url(#fd)"/>
<circle cx="428.2" cy="300.4" r="4.7" fill="url(#fd)"/>
<circle cx="441.95" cy="300.4" r="4.7" fill="url(#fd)"/>
<circle cx="455.7" cy="300.4" r="4.7" fill="url(#fd)"/>
<circle cx="276.95" cy="314.15" r="4.7" fill="url(#fd)"/>
<circle cx="290.7" cy="314.15" r="4.7" fill="url(#fd)"/>
<circle cx="304.45" cy="314.15" r="4.7" fill="url(#fd)"/>
<circle cx="318.2" cy="314.15" r="4.7" fill="url(#fd)"/>
<circle cx="331.95" cy="314.15" r="4.7" fill="url(#fd)"/>
<circle cx="345.7" cy="314.15" r="4.7" fill="url(#fd)"/>
<circle cx="359.45" cy="314.15" r="4.7" fill="url(#fd)"/>
<circle cx="373.2" cy="314.15" r="4.7" fill="url(#fd)"/>
<circle cx="386.95" cy="314.15" r="4.7" fill="url(#fd)"/>
<circle cx="400.7" cy="314.15" r="4.7" fill="url(#fd)"/>
<circle cx="414.45" cy="314.15" r="4.7" fill="url(#fd)"/>
<circle cx="428.2" cy="314.15" r="4.7" fill="url(#fd)"/>
<circle cx="441.95" cy="314.15" r="4.7" fill="url(#fd)"/>
<circle cx="455.7" cy="314.15" r="4.7" fill="url(#fd)"/>
<circle cx="276.95" cy="327.9" r="4.7" fill="url(#fd)"/>
<circle cx="290.7" cy="327.9" r="4.7" fill="url(#fd)"/>
<circle cx="304.45" cy="327.9" r="4.7" fill="url(#fd)"/>
<circle cx="318.2" cy="327.9" r="4.7" fill="url(#fd)"/>
<circle cx="331.95" cy="327.9" r="4.7" fill="url(#fd)"/>
<circle cx="345.7" cy="327.9" r="4.7" fill="url(#fd)"/>
<circle cx="359.45" cy="327.9" r="4.7" fill="url(#fd)"/>
<circle cx="373.2" cy="327.9" r="4.7" fill="url(#fd)"/>
<circle cx="386.95" cy="327.9" r="4.7" fill="url(#fd)"/>
<circle cx="400.7" cy="327.9" r="4.7" fill="url(#fd)"/>
<circle cx="414.45" cy="327.9" r="4.7" fill="url(#fd)"/>
<circle cx="428.2" cy="327.9" r="4.7" fill="url(#fd)"/>
<circle cx="441.95" cy="327.9" r="4.7" fill="url(#fd)"/>
<circle cx="455.7" cy="327.9" r="4.7" fill="url(#fd)"/>
</g></g>
<line x1="299.5" y1="300.3" x2="379.8" y2="302.2" stroke="#fff" stroke-width="1.5"/>
<text x="422.6" y="318.5" font-size="14.1" text-anchor="middle" fill="#fff">15 µm</text>
<rect x="421.2" y="324.8" width="14" height="2.2" fill="#fff"/>
</g>
<g id="panel-e">
<rect x="480.6" y="100.3" width="194.2" height="156.3" fill="#fff" stroke="#363636" stroke-width="0.85"/>
<path d="M480.6 256.6v-3.4M480.6 100.3v3.4M504.88 256.6v-1.7M504.88 100.3v1.7M529.15 256.6v-3.4M529.15 100.3v3.4M553.43 256.6v-1.7M553.43 100.3v1.7M577.7 256.6v-3.4M577.7 100.3v3.4M601.98 256.6v-1.7M601.98 100.3v1.7M626.25 256.6v-3.4M626.25 100.3v3.4M650.52 256.6v-1.7M650.52 100.3v1.7M674.8 256.6v-3.4M674.8 100.3v3.4M480.6 256.8h3.4M480.6 247.59h1.7M480.6 238.38h3.4M480.6 229.16h1.7M480.6 219.95h3.4M480.6 210.74h1.7M480.6 201.53h3.4M480.6 192.31h1.7M480.6 183.1h3.4M480.6 173.89h1.7M480.6 164.68h3.4M480.6 155.46h1.7M480.6 146.25h3.4M480.6 137.04h1.7M480.6 127.83h3.4M480.6 118.61h1.7M480.6 109.4h3.4" stroke="#363636" stroke-width="0.75" fill="none"/>
<text x="480.6" y="268.4" font-size="10.3" text-anchor="middle" fill="#000">0</text>
<text x="529.15" y="268.4" font-size="10.3" text-anchor="middle" fill="#000">25</text>
<text x="577.7" y="268.4" font-size="10.3" text-anchor="middle" fill="#000">50</text>
<text x="626.25" y="268.4" font-size="10.3" text-anchor="middle" fill="#000">75</text>
<text x="674.8" y="268.4" font-size="10.3" text-anchor="middle" fill="#000">100</text>
<text x="477.4" y="260" font-size="10.3" text-anchor="end" fill="#000">0</text>
<text x="477.4" y="241.57" font-size="10.3" text-anchor="end" fill="#000">10</text>
<text x="477.4" y="223.15" font-size="10.3" text-anchor="end" fill="#000">20</text>
<text x="477.4" y="204.72" font-size="10.3" text-anchor="end" fill="#000">30</text>
<text x="477.4" y="186.3" font-size="10.3" text-anchor="end" fill="#000">40</text>
<text x="477.4" y="167.88" font-size="10.3" text-anchor="end" fill="#000">50</text>
<text x="477.4" y="149.45" font-size="10.3" text-anchor="end" fill="#000">60</text>
<text x="477.4" y="131.03" font-size="10.3" text-anchor="end" fill="#000">70</text>
<text x="477.4" y="112.6" font-size="10.3" text-anchor="end" fill="#000">80</text>
<text x="577.8" y="277.6" font-size="13.4" text-anchor="middle" fill="#000">Distance (µm)</text>
<text transform="translate(460 178.8) rotate(-90)" font-size="12.9" text-anchor="middle" fill="#000">Intensity (a.u.)</text>
<text transform="translate(467.8 87.2) scale(0.91 1)" font-size="17.3" text-anchor="middle" fill="#000">(e)</text>
<path d="M480.7 246.6L482.2 241L484.1 231.8L485.8 217L487.5 197.7L488.4 186L489.1 178L490 158L490.9 140.5L491.5 134.5L492 131.4L493.2 129.6L494.4 128.2L495.2 125L495.9 122.3L496.6 125.2L497.6 128.6L498.9 132.5L499.5 135.5L500 140.5L500.9 160L501.8 180L502.6 205L503.4 220.5L504.5 231L505.7 238.6L507.4 244.5L509.1 247.7L510.2 248.7L511.4 248.9L513 248.4L514.8 246.6L516.6 240.5L518.2 231.8L519.4 221.5L520.5 209.1L521.6 194L522.3 180L523.4 153L524.5 132.5L525.6 130.4L527.2 129.3L528.9 129.1L530.4 129.9L531.8 132.5L532.8 143L533.8 160L534.8 180L535.6 204L536.4 220.5L538 233L539.8 240.9L541.4 245L543.2 247.3L545 247.7L546.4 247L547.7 245.5L549.4 239.5L551.1 229.5L552.3 218L553.4 204.5L554.3 190L555 180L556.5 158L558 140.5L559.2 133.8L560.3 131.4L561.4 130.9L562.6 131.6L563.6 133.4L564.3 135.9L565.6 156L567 180L567.8 196L568.6 209.1L570 221L571.6 229.5L573.2 236L575 241.4L576.2 243.2L577.3 243.6L579 242L580.7 238.6L582.4 233L584.1 225L585.8 213L587.5 197.7L588.6 187L589.8 175L590.6 157L591.4 140.5L592.4 133L593.8 129.9L595.5 129.1L597 130L598.1 133.2L598.9 140.5L600 160L601.1 180L601.8 194L602.3 204.5L603.4 217L604.5 227.3L605.6 236L606.8 243.2L608.2 247.4L609.8 248.9L611.2 248.3L612.5 246.6L614.2 241.5L615.9 234.1L617.6 223L619.3 209.1L620.6 193L621.6 180L622.8 158L623.9 140.5L624.9 133L626.2 129.9L627.7 129.1L629.3 130L630.5 133.2L631.4 140.5L632.5 160L633.6 180L634.4 193L635.2 204.5L636.3 217L637.5 227.3L638.6 235L639.8 240.9L641.5 245.8L643.2 247.7L644.9 246.5L646.6 243.2L648.3 236.5L650 227.3L651.7 214L653.4 197.7L654.3 187L655.2 175L656.2 157L657.3 140.5L658.3 133.8L659.6 130.7L660.9 129.8L662.6 130.6L663.9 133.6L664.8 140.5L666.1 160L667.5 180L668.4 196L669.3 209.1L670.4 220L671.6 229.5L673 237L674.5 242.7" stroke="#111" stroke-width="0.9" fill="none" stroke-linejoin="round"/>
<path d="M480.7 218.2L481.8 220L483 221.6L485.2 223.9L487 223.4L488.6 223.2L490.2 223.8L492 223.9L494.8 224.6L497.7 225.5L500.4 226L503.4 226.8L505.2 227.6L506.8 228.4L508 226.4L509.1 223.9L510.8 220L512.5 217L514.6 216L517 215.5L518.8 217.2L520.5 219.3L522.2 221L523.9 222.3L525.6 222.6L527.3 223.2L529 225.2L530.7 226.8L533.5 227.5L536.4 227.7L538.2 226.5L539.8 225L541 224L542 223.9L543.2 226.1L544.2 224.2L545 222.7L546.2 224.6L547.3 226.1L549.2 227.6L551.1 228.4L552.8 226.4L554.5 224.5L556.2 224L558 223.9L559.8 222.6L561.4 221.6L562.6 222.4L563.6 222.3L565.4 220L567 218.2L568.8 220L570.5 221.6L571.6 223L572.7 223.9L574.4 222L575.6 220.9L577.3 219.3L578.4 220.6L579.5 221.6L581.2 221.2L583 221.6L584.8 222.8L586.4 223.9L588 225L589.8 226.1L591 227.2L592 227.7L593.2 226L594.3 224.5L595.5 225.6L596.6 226.1L598.4 226.2L600 226.8L601.4 225.4L602.7 223.9L604.2 227.5L605.7 230.7L607.4 226L609.1 221.6L610.2 220.2L611.4 219.3L612.6 220.8L613.6 221.6L615.4 219.5L617 218.2L619.4 217.8L621.6 218.2L623.8 219.8L626.1 221.6L628.4 223.2L630.7 224.5L633 223L635.2 221.6L637 224.6L638.6 227.3L640.4 223.6L642 220.5L643.2 219L644.3 218.2L645.8 219.6L647.3 220.5L648.8 218.4L650 217L651.2 219.6L652.3 221.6L653.4 220.8L654.5 220.5L656.2 222.8L658 225L659.8 227.8L661.4 229.5L663.2 225.8L664.8 222.7L666 221.8L667 221.6L668.2 222.9L669.3 223.9L670.4 224L671.6 224.5L672.4 227.2L673.2 229.1L673.9 226.8L674.5 225" stroke="#e0141e" stroke-width="0.9" fill="none" stroke-linejoin="round"/>
</g>
</svg></body></html>
